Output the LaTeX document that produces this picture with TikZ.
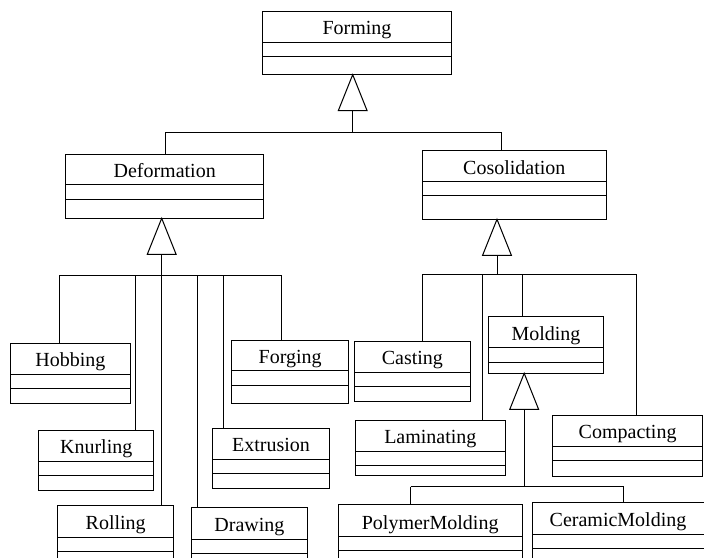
\documentclass[tikz,border=0pt]{standalone}
\usepackage{fontspec}
\setmainfont{Liberation Serif}

% \umlclass{name}{x1}{y1}{x2}{y2}{div1}{div2}{title}
\newcommand\umlclass[8]{%
  \node[classbox, anchor=north west,
        minimum width={(#4-#2)*1bp}, minimum height={(#5-#3)*1bp}] (#1) at (#2,#3) {};
  \draw[conn] (#2,#6) -- (#4,#6) (#2,#7) -- (#4,#7);
  \node[classname] (#1-title) at ({(#2+#4)/2},{#6-7.5}) {#8};
}
% \gentri{apex}: hollow generalization triangle hanging from a parent's bottom edge
\newcommand\gentri[1]{%
  \draw[gentri] (#1) -- ++(-14.4,36) -- ++(28.8,0) -- cycle;
}

\begin{document}
\begin{tikzpicture}[x=1bp,y=-1bp,
  conn/.style={draw=black, line width=1bp},
  classbox/.style={draw=black, line width=1bp, rectangle, inner sep=0pt, outer sep=0pt},
  classname/.style={font=\fontsize{20bp}{24bp}\selectfont, inner sep=0pt, anchor=base},
  gentri/.style={draw=black, line width=1bp, fill=white, line join=miter}]
\clip (0,0) rectangle (704,558);
\fill[white] (0,0) rectangle (704,558);

% classes
\umlclass{forming}{262.3}{11.7}{451.7}{74.7}{42.3}{56.3}{Forming}
\umlclass{deformation}{65.7}{154.3}{263.7}{218.3}{185}{199.3}{Deformation}
\umlclass{cosolidation}{422}{150.7}{606.7}{219.3}{181.7}{195.7}{Cosolidation}
\umlclass{hobbing}{10}{343.3}{130.7}{403.7}{374.3}{388.7}{Hobbing}
\umlclass{forging}{231.7}{340}{348.7}{403.8}{370.5}{385}{Forging}
\umlclass{knurling}{38.7}{430.7}{153.7}{490}{461.3}{475.3}{Knurling}
\umlclass{extrusion}{212.7}{428.5}{329.3}{488.3}{459.3}{473.7}{Extrusion}
\umlclass{rolling}{57.7}{505.3}{173.7}{585}{537}{551.7}{Rolling}
\umlclass{drawing}{191.8}{507}{307}{585}{539.2}{553.5}{Drawing}
\umlclass{casting}{354}{341}{470.7}{401.3}{372.3}{386.7}{Casting}
\umlclass{molding}{488.3}{316.7}{603.7}{373.3}{347.7}{362}{Molding}
\umlclass{laminating}{355}{420.3}{505.7}{475.3}{451}{465}{Laminating}
\umlclass{compacting}{552.7}{415}{702.5}{476}{446.3}{460.7}{Compacting}
\umlclass{polymer}{338}{504}{522.3}{585}{536.7}{550}{PolymerMolding}
\umlclass{ceramic}{532}{502.7}{704}{585}{534.3}{548}{CeramicMolding}

% Forming <- Deformation, Cosolidation
\coordinate (fa) at (352.7,74.7);
\coordinate (fbar) at (352.7,133);
\coordinate (j-def) at (165.7,133);
\coordinate (j-cos) at (501.7,133);
\gentri{fa}
\draw[conn] (fa) ++(0,36) -- (fbar);
\draw[conn] (deformation.north -| j-def) -- (j-def) -- (j-cos) -- (cosolidation.north -| j-cos);

% Deformation <- Hobbing, Knurling, Rolling, Drawing, Extrusion, Forging
\coordinate (da) at (161.7,218.3);
\coordinate (dbar) at (161.7,275);
\coordinate (j-hob) at (59.3,275);
\coordinate (j-knu) at (135.3,275);
\coordinate (j-rol) at (161.7,275);
\coordinate (j-dra) at (197.5,275);
\coordinate (j-ext) at (223,275);
\coordinate (j-for) at (281,275);
\gentri{da}
\draw[conn] (da) ++(0,36) -- (dbar);
\draw[conn] (j-hob) -- (j-for);
\draw[conn] (j-hob) -- (hobbing.north -| j-hob);
\draw[conn] (j-knu) -- (knurling.north -| j-knu);
\draw[conn] (j-rol) -- (rolling.north -| j-rol);
\draw[conn] (j-dra) -- (drawing.north -| j-dra);
\draw[conn] (j-ext) -- (extrusion.north -| j-ext);
\draw[conn] (j-for) -- (forging.north -| j-for);

% Cosolidation <- Casting, Laminating, Molding, Compacting
\coordinate (ca) at (497,219.3);
\coordinate (cbar) at (497,274.3);
\coordinate (j-cas) at (422,274.3);
\coordinate (j-lam) at (482.5,274.3);
\coordinate (j-mol) at (522.3,274.3);
\coordinate (j-com) at (636.7,274.3);
\gentri{ca}
\draw[conn] (ca) ++(0,36) -- (cbar);
\draw[conn] (j-cas) -- (j-com);
\draw[conn] (j-cas) -- (casting.north -| j-cas);
\draw[conn] (j-lam) -- (laminating.north -| j-lam);
\draw[conn] (j-mol) -- (molding.north -| j-mol);
\draw[conn] (j-com) -- (compacting.north -| j-com);

% Molding <- PolymerMolding, CeramicMolding
\coordinate (ma) at (524.2,373.3);
\coordinate (mbar) at (524.2,486.7);
\coordinate (j-pol) at (410.7,486.7);
\coordinate (j-cer) at (623.5,486.7);
\gentri{ma}
\draw[conn] (ma) ++(0,36) -- (mbar);
\draw[conn] (j-pol) -- (j-cer);
\draw[conn] (j-pol) -- (polymer.north -| j-pol);
\draw[conn] (j-cer) -- (ceramic.north -| j-cer);
\end{tikzpicture}
\end{document}
